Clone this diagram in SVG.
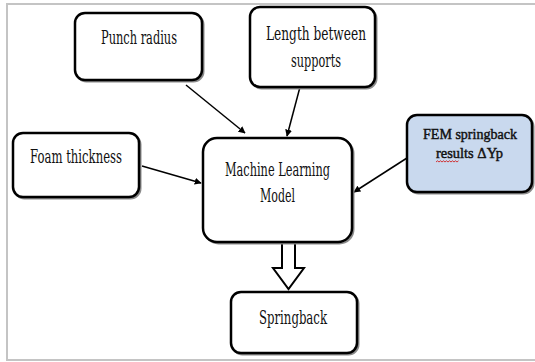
<svg xmlns="http://www.w3.org/2000/svg" width="535" height="362" viewBox="0 0 535 362">
<defs>
<style>
.box{fill:#ffffff;stroke:#000000;stroke-width:2.5}
.shadow{fill:none;stroke:#8a8a8a;stroke-width:2}
.fem{fill:#c9d9ee;stroke:#000000;stroke-width:2.5}
.lbl{font-family:"DejaVu Serif","Liberation Serif",serif;font-size:18px;fill:#111111;text-anchor:middle}
.sm{font-family:"Liberation Serif","DejaVu Serif",serif;font-size:15px;fill:#111111;stroke:#111111;stroke-width:0.45}
.conn{stroke:#000000;stroke-width:1.5;fill:none;marker-end:url(#ah)}
</style>
<marker id="ah" viewBox="0 0 10 10" refX="9" refY="5" markerWidth="7" markerHeight="7" orient="auto" markerUnits="userSpaceOnUse">
<path d="M0,0 L10,5 L0,10 Z" fill="#000000"/>
</marker>
</defs>
<rect width="535" height="362" fill="#ffffff"/>
<path d="M537,4 H7 V360 H537" fill="none" stroke="#c4c4c4" stroke-width="2"/>

<g id="connectors">
<line class="conn" x1="186" y1="85" x2="245" y2="133"/>
<line class="conn" x1="300" y1="87" x2="287" y2="136"/>
<line class="conn" x1="142" y1="166" x2="201" y2="183"/>
<line class="conn" x1="407" y1="158" x2="354" y2="192"/>
<polygon points="282,243 295,243 295,268 304,268 288.5,289 273,268 282,268" fill="#ffffff" stroke="#000000" stroke-width="2" stroke-linejoin="miter"/>
</g>

<g id="punch-radius">
<rect class="shadow" x="76.5" y="14.5" width="127" height="67" rx="10"/>
<rect class="box" x="75" y="13" width="127" height="67" rx="10"/>
<text class="lbl" x="139" y="44" textLength="76" lengthAdjust="spacingAndGlyphs">Punch radius</text>
</g>

<g id="length-between-supports">
<rect class="shadow" x="251.5" y="8.5" width="125" height="80" rx="10"/>
<rect class="box" x="250" y="7" width="125" height="80" rx="10"/>
<text class="lbl" x="316" y="40" textLength="100" lengthAdjust="spacingAndGlyphs">Length between</text>
<text class="lbl" x="316" y="67" textLength="50" lengthAdjust="spacingAndGlyphs">supports</text>
</g>

<g id="foam-thickness">
<rect class="shadow" x="14.5" y="134.5" width="126" height="64" rx="10"/>
<rect class="box" x="13" y="133" width="126" height="64" rx="10"/>
<text class="lbl" x="76" y="163" textLength="92" lengthAdjust="spacingAndGlyphs">Foam thickness</text>
</g>

<g id="machine-learning-model">
<rect class="shadow" x="204.5" y="139.5" width="149" height="104" rx="14"/>
<rect class="box" x="203" y="138" width="149" height="104" rx="14"/>
<text class="lbl" x="277.5" y="176" textLength="105" lengthAdjust="spacingAndGlyphs">Machine Learning</text>
<text class="lbl" x="277.5" y="202" textLength="35" lengthAdjust="spacingAndGlyphs">Model</text>
</g>

<g id="fem-springback-results">
<rect class="shadow" x="408.5" y="116.5" width="125" height="77" rx="10"/>
<rect class="fem" x="407" y="115" width="125" height="77" rx="10"/>
<text class="lbl sm" x="470" y="139" textLength="94" lengthAdjust="spacingAndGlyphs">FEM springback</text>
<text class="lbl sm" x="469.5" y="158" textLength="67" lengthAdjust="spacingAndGlyphs">results ΔYp</text>
<path d="M436,162 l1.5,-1.2 l1.5,1.2 l1.5,-1.2 l1.5,1.2 l1.5,-1.2 l1.5,1.2 l1.5,-1.2 l1.5,1.2 l1.5,-1.2 l1.5,1.2 l1.5,-1.2 l1.5,1.2 l1.5,-1.2 l1.5,1.2 l1.5,-1.2" fill="none" stroke="#d02020" stroke-width="0.9"/>
</g>

<g id="springback">
<rect class="shadow" x="232.5" y="293.5" width="126" height="61" rx="10"/>
<rect class="box" x="231" y="292" width="126" height="61" rx="10"/>
<text class="lbl" x="293" y="324" textLength="68" lengthAdjust="spacingAndGlyphs">Springback</text>
</g>
</svg>
